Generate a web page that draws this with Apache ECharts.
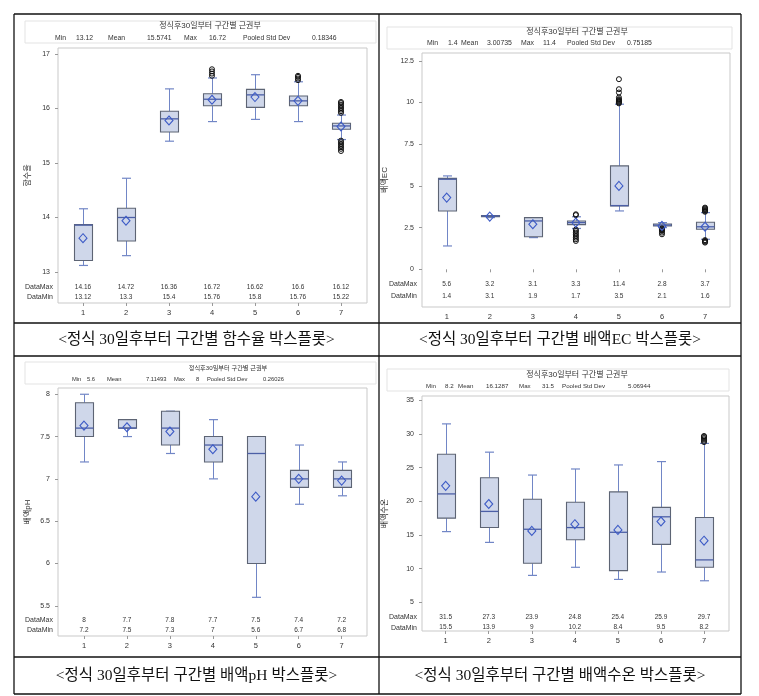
<!DOCTYPE html>
<html>
<head>
<meta charset="utf-8">
<script src="https://cdn.jsdelivr.net/npm/echarts@6.0.0/dist/echarts.min.js"></script>
<style>
html,body{margin:0;padding:0;background:#fff;}
#c{width:759px;height:696px;}
</style>
</head>
<body>
<div id="c"></div>
<script>
// ---------- DATA ----------
const categories = [1, 2, 3, 4, 5, 6, 7];
const xTickLabels = ['1', '2', '3', '4', '5', '6', '7'];
const subTitle = '정식후30일부터 구간별 근권부';

// Panel 1 : 함수율
const p1Ticks = [13, 14, 15, 16, 17];
const p1Low  = [13.12, 13.3, 15.4, 15.76, 15.8, 15.76, 15.43];
const p1Q1   = [13.21, 13.57, 15.57, 16.05, 16.02, 16.05, 15.62];
const p1Med  = [13.86, 14.0, 15.81, 16.17, 16.25, 16.14, 15.68];
const p1Q3   = [13.87, 14.17, 15.95, 16.27, 16.35, 16.23, 15.73];
const p1High = [14.16, 14.72, 16.36, 16.56, 16.62, 16.49, 15.88];
const p1Mean = [13.62, 13.94, 15.78, 16.16, 16.21, 16.14, 15.67];
const p1Outliers = [[], [], [], [16.6, 16.64, 16.68, 16.72], [], [16.52, 16.55, 16.58, 16.6],
  [15.92, 15.95, 15.98, 16.01, 16.04, 16.07, 16.1, 16.12, 15.41, 15.38, 15.35, 15.32, 15.29, 15.26, 15.22]];
const p1DataMax = ['14.16', '14.72', '16.36', '16.72', '16.62', '16.6', '16.12'];
const p1DataMin = ['13.12', '13.3', '15.4', '15.76', '15.8', '15.76', '15.22'];
const p1Stats = ['Min', '13.12', 'Mean', '15.5741', 'Max', '16.72', 'Pooled Std Dev', '0.18346'];

// Panel 2 : 배액EC
const p2Ticks = [0, 2.5, 5, 7.5, 10, 12.5];
const p2Low  = [1.4, 3.1, 1.9, 2.45, 3.5, 2.5, 1.8];
const p2Q1   = [3.5, 3.15, 1.95, 2.68, 3.8, 2.6, 2.4];
const p2Med  = [5.4, 3.2, 2.9, 2.8, 3.82, 2.65, 2.55];
const p2Q3   = [5.45, 3.22, 3.1, 2.9, 6.2, 2.72, 2.82];
const p2High = [5.6, 3.22, 3.1, 3.15, 9.9, 2.8, 3.4];
const p2Mean = [4.3, 3.16, 2.7, 2.8, 5.0, 2.6, 2.55];
const p2Outliers = [[], [], [], [3.25, 3.3, 2.38, 2.3, 2.2, 2.1, 2.0, 1.9, 1.8, 1.7],
  [9.95, 10.0, 10.05, 10.1, 10.15, 10.2, 10.3, 10.6, 10.8, 11.4],
  [2.45, 2.4, 2.35, 2.3, 2.2, 2.1],
  [3.45, 3.5, 3.55, 3.6, 3.65, 3.7, 1.75, 1.7, 1.65, 1.6]];
const p2DataMax = ['5.6', '3.2', '3.1', '3.3', '11.4', '2.8', '3.7'];
const p2DataMin = ['1.4', '3.1', '1.9', '1.7', '3.5', '2.1', '1.6'];
const p2Stats = ['Min', '1.4', 'Mean', '3.00735', 'Max', '11.4', 'Pooled Std Dev', '0.75185'];

// Panel 3 : 배액pH
const p3Ticks = [5.5, 6, 6.5, 7, 7.5, 8];
const p3Low  = [7.2, 7.5, 7.3, 7.0, 5.6, 6.7, 6.8];
const p3Q1   = [7.5, 7.6, 7.4, 7.2, 6.0, 6.9, 6.9];
const p3Med  = [7.6, 7.6, 7.6, 7.4, 7.3, 7.0, 7.0];
const p3Q3   = [7.9, 7.7, 7.8, 7.5, 7.5, 7.1, 7.1];
const p3High = [8.0, 7.7, 7.8, 7.7, 7.5, 7.4, 7.2];
const p3Mean = [7.63, 7.61, 7.56, 7.35, 6.79, 7.0, 6.98];
const p3Outliers = [[], [], [], [], [], [], []];
const p3DataMax = ['8', '7.7', '7.8', '7.7', '7.5', '7.4', '7.2'];
const p3DataMin = ['7.2', '7.5', '7.3', '7', '5.6', '6.7', '6.8'];
const p3Stats = ['Min', '5.6', 'Mean', '7.11493', 'Max', '8', 'Pooled Std Dev', '0.26026'];

// Panel 4 : 배액수온
const p4Ticks = [5, 10, 15, 20, 25, 30, 35];
const p4Low  = [15.5, 13.9, 9.0, 10.2, 8.4, 9.5, 8.2];
const p4Q1   = [17.5, 16.1, 10.8, 14.3, 9.7, 13.6, 10.2];
const p4Med  = [21.1, 18.5, 15.85, 16.1, 15.4, 17.7, 11.3];
const p4Q3   = [27.0, 23.5, 20.3, 19.86, 21.4, 19.1, 17.6];
const p4High = [31.5, 27.3, 23.9, 24.8, 25.4, 25.9, 28.6];
const p4Mean = [22.3, 19.6, 15.6, 16.6, 15.75, 17.0, 14.15];
const p4Outliers = [[], [], [], [], [], [], [28.8, 29.0, 29.2, 29.4, 29.6, 29.7]];
const p4DataMax = ['31.5', '27.3', '23.9', '24.8', '25.4', '25.9', '29.7'];
const p4DataMin = ['15.5', '13.9', '9', '10.2', '8.4', '9.5', '8.2'];
const p4Stats = ['Min', '8.2', 'Mean', '16.1287', 'Max', '31.5', 'Pooled Std Dev', '5.06944'];

const yNames = ['함수율', '배액EC', '배액pH', '배액수온'];
const captions = ['<정식 30일후부터 구간별 함수율 박스플롯>', '<정식 30일후부터 구간별 배액EC 박스플롯>',
  '<정식 30일후부터 구간별 배액pH 박스플롯>', '<정식 30일후부터 구간별 배액수온 박스플롯>'];

// ---------- LAYOUT / STYLE ----------
const UI = "'Liberation Sans','Noto Sans CJK KR',sans-serif";
const SERIF = "'Liberation Serif','Noto Sans CJK KR',serif";
const BOX_FILL = '#cfd7ea', BOX_EDGE = '#5d6474', WHISK = '#7186c6', MED = '#4c5fa6', MEAN = '#3d5bc6';

const panels = [
  { low: p1Low, q1: p1Q1, med: p1Med, q3: p1Q3, high: p1High, mean: p1Mean, out: p1Outliers, dmax: p1DataMax, dmin: p1DataMin, ticks: p1Ticks, stats: p1Stats,
    grid: { left: 58, top: 48, width: 309, height: 255 }, ymin: 12.431, ymax: 17.11, xmin: 0.419, xmax: 7.605, rowMax: 12.725, rowMin: 12.541, nameGap: 26,
    head: { x: 25, y: 21, w: 351, h: 22 }, titleX: 210, titleY: 26, statY: 38, tfs: 8, sfs: 6.8, statX: [55, 76, 108, 147, 184, 209, 243, 312] },
  { low: p2Low, q1: p2Q1, med: p2Med, q3: p2Q3, high: p2High, mean: p2Mean, out: p2Outliers, dmax: p2DataMax, dmin: p2DataMin, ticks: p2Ticks, stats: p2Stats,
    grid: { left: 422, top: 53, width: 308, height: 254 }, ymin: -2.26, ymax: 12.97, xmin: 0.426, xmax: 7.58, rowMax: -0.88, rowMin: -1.6, nameGap: 33,
    head: { x: 387, y: 27, w: 345, h: 22 }, titleX: 577, titleY: 32, statY: 43, tfs: 8, sfs: 6.9, statX: [427, 448, 461, 487, 521, 543, 567, 627] },
  { low: p3Low, q1: p3Q1, med: p3Med, q3: p3Q3, high: p3High, mean: p3Mean, out: p3Outliers, dmax: p3DataMax, dmin: p3DataMin, ticks: p3Ticks, stats: p3Stats,
    grid: { left: 58, top: 388, width: 309, height: 248 }, ymin: 5.143, ymax: 8.074, xmin: 0.395, xmax: 7.59, rowMax: 5.332, rowMin: 5.214, nameGap: 26,
    head: { x: 25, y: 362, w: 351, h: 22 }, titleX: 228, titleY: 368, statY: 379, tfs: 6.2, sfs: 5.8, statX: [72, 87, 107, 146, 174, 196, 207, 263] },
  { low: p4Low, q1: p4Q1, med: p4Med, q3: p4Q3, high: p4High, mean: p4Mean, out: p4Outliers, dmax: p4DataMax, dmin: p4DataMin, ticks: p4Ticks, stats: p4Stats,
    grid: { left: 422, top: 396, width: 307, height: 235 }, ymin: 0.74, ymax: 35.64, xmin: 0.45, xmax: 7.58, rowMax: 2.86, rowMin: 1.23, nameGap: 33,
    head: { x: 387, y: 369, w: 342, h: 22 }, titleX: 577, titleY: 375, statY: 386, tfs: 8, sfs: 6.2, statX: [426, 445, 458, 486, 519, 542, 562, 628] }
];

function boxRender(params, api) {
  const x = api.value(0);
  const pl = api.coord([x, api.value(1)]);
  const p1 = api.coord([x, api.value(2)]);
  const pm = api.coord([x, api.value(3)]);
  const p3 = api.coord([x, api.value(4)]);
  const ph = api.coord([x, api.value(5)]);
  const cx = Math.round(pl[0]) + 0.5, hw = 9, cw = 4.5;
  return {
    type: 'group',
    children: [
      { type: 'line', shape: { x1: cx, y1: pl[1], x2: cx, y2: p1[1] }, style: { stroke: WHISK, lineWidth: 1 } },
      { type: 'line', shape: { x1: cx, y1: p3[1], x2: cx, y2: ph[1] }, style: { stroke: WHISK, lineWidth: 1 } },
      { type: 'line', shape: { x1: cx - cw, y1: pl[1], x2: cx + cw, y2: pl[1] }, style: { stroke: WHISK, lineWidth: 1.2 } },
      { type: 'line', shape: { x1: cx - cw, y1: ph[1], x2: cx + cw, y2: ph[1] }, style: { stroke: WHISK, lineWidth: 1.2 } },
      { type: 'rect', shape: { x: cx - hw, y: p3[1], width: hw * 2, height: Math.max(p1[1] - p3[1], 0.5) },
        style: { fill: BOX_FILL, stroke: BOX_EDGE, lineWidth: 1.1 } },
      { type: 'line', shape: { x1: cx - hw, y1: pm[1], x2: cx + hw, y2: pm[1] }, style: { stroke: MED, lineWidth: 1.3 } }
    ]
  };
}

const grids = [], xAxes = [], yAxes = [], series = [], graphics = [];

panels.forEach((p, i) => {
  grids.push(Object.assign({ show: true, borderColor: '#c9c9c9', borderWidth: 1, backgroundColor: '#fff', containLabel: false, outerBoundsMode: 'none' }, p.grid));
  xAxes.push({
    type: 'value', gridIndex: i, min: p.xmin, max: p.xmax,
    axisLine: { show: false }, splitLine: { show: false },
    axisTick: { show: true, length: 3, customValues: categories, lineStyle: { color: '#999' } },
    axisLabel: { customValues: categories, margin: 6, fontSize: 7.5, color: '#333', fontFamily: UI,
      formatter: v => xTickLabels[categories.indexOf(Math.round(v))] }
  });
  const rowMax = p.rowMax, rowMin = p.rowMin;
  yAxes.push({
    type: 'value', gridIndex: i, min: p.ymin, max: p.ymax,
    name: yNames[i], nameLocation: 'middle', nameGap: p.nameGap, nameMoveOverlap: false,
    nameTextStyle: { fontSize: 8, color: '#333', fontFamily: UI },
    axisLine: { show: false }, splitLine: { show: false },
    axisTick: { show: true, length: 3, customValues: p.ticks, lineStyle: { color: '#999' } },
    axisLabel: {
      customValues: p.ticks.concat([rowMax, rowMin]), margin: 5, color: '#333', fontFamily: UI,
      formatter: v => (v === rowMax ? '{r|DataMax}' : v === rowMin ? '{r|DataMin}' : '{t|' + v + '}'),
      rich: { t: { fontSize: 7, padding: [0, 3, 0, 0], fontFamily: UI, color: '#333' }, r: { fontSize: 7, fontFamily: UI, color: '#333' } }
    }
  });
  // boxes
  series.push({
    type: 'custom', xAxisIndex: i, yAxisIndex: i, renderItem: boxRender, silent: true, z: 2,
    encode: { x: 0, y: [1, 2, 3, 4, 5] },
    data: categories.map((c, k) => [c, p.low[k], p.q1[k], p.med[k], p.q3[k], p.high[k]])
  });
  // outliers
  const outData = [];
  p.out.forEach((arr, k) => arr.forEach(v => outData.push([categories[k], v])));
  series.push({
    type: 'scatter', xAxisIndex: i, yAxisIndex: i, symbol: 'circle', symbolSize: 5, z: 3, silent: true,
    itemStyle: { color: 'rgba(255,255,255,0)', borderColor: '#111', borderWidth: 1, opacity: 1 },
    data: outData
  });
  // means
  series.push({
    type: 'scatter', xAxisIndex: i, yAxisIndex: i, symbol: 'diamond', symbolSize: [8, 9], z: 4, silent: true,
    itemStyle: { color: 'rgba(255,255,255,0)', borderColor: MEAN, borderWidth: 1.1, opacity: 1 },
    data: categories.map((c, k) => [c, p.mean[k]])
  });
  // DataMax / DataMin rows
  const rowData = categories.map((c, k) => [c, rowMax, p.dmax[k]]).concat(categories.map((c, k) => [c, rowMin, p.dmin[k]]));
  series.push({
    type: 'custom', xAxisIndex: i, yAxisIndex: i, silent: true, z: 5,
    encode: { x: 0, y: 1 },
    data: rowData,
    renderItem: (params, api) => {
      const pt = api.coord([api.value(0), api.value(1)]);
      return { type: 'text', x: pt[0], y: pt[1],
        style: { text: rowData[params.dataIndex][2], align: 'center', verticalAlign: 'middle', fontSize: 6.5, fontFamily: UI, fill: '#333' } };
    }
  });
  // header box and texts
  graphics.push({ type: 'rect', shape: { x: p.head.x, y: p.head.y, width: p.head.w, height: p.head.h }, style: { fill: '#fff', stroke: '#e3e3e3', lineWidth: 1 }, z: 1 });
  graphics.push({ type: 'text', x: p.titleX, y: p.titleY, style: { text: subTitle, align: 'center', verticalAlign: 'middle', fontSize: p.tfs, fontFamily: UI, fill: '#333' }, z: 2 });
  p.stats.forEach((s, k) => {
    graphics.push({ type: 'text', x: p.statX[k], y: p.statY, style: { text: s, align: 'left', verticalAlign: 'middle', fontSize: p.sfs, fontFamily: UI, fill: '#333' }, z: 2 });
  });
});

// table frame
const L = 14, R = 741, M = 379;
const hLines = [14, 323, 356, 657, 694];
hLines.forEach(y => graphics.push({ type: 'line', shape: { x1: L, y1: y, x2: R, y2: y }, style: { stroke: '#111', lineWidth: 1.3 }, z: 10 }));
[L, M, R].forEach(x => graphics.push({ type: 'line', shape: { x1: x, y1: 14, x2: x, y2: 694 }, style: { stroke: '#111', lineWidth: 1.3 }, z: 10 }));
// captions
const capPos = [[196.5, 340], [560, 340], [196.5, 675.5], [560, 675.5]];
captions.forEach((t, k) => graphics.push({ type: 'text', x: capPos[k][0], y: capPos[k][1],
  style: { text: t, align: 'center', verticalAlign: 'middle', fontSize: 15.5, fontFamily: SERIF, fill: '#111' }, z: 10 }));

const chart = echarts.init(document.getElementById('c'), null, { renderer: 'canvas', width: 759, height: 696 });
chart.setOption({
  animation: false,
  backgroundColor: '#fff',
  grid: grids, xAxis: xAxes, yAxis: yAxes, series: series,
  graphic: { elements: graphics }
});
</script>
</body>
</html>
